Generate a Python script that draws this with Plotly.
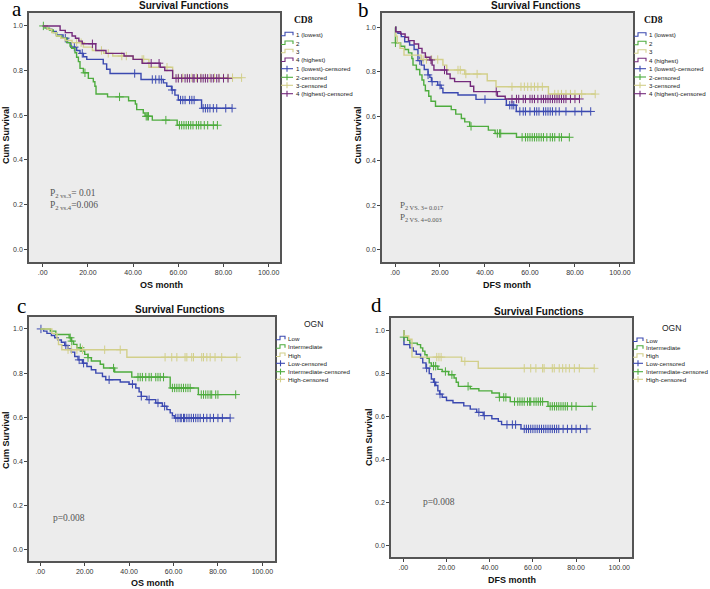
import numpy as np
import plotly.graph_objects as go

W, H = 710, 589

# ---------------- Panel a : CD8, OS ----------------
A1_T = [0, 2, 4, 6, 9, 11, 12.5, 15, 16.5, 18, 19.5, 26.8, 28.3, 29.8, 43.5, 53.4, 54.9, 57, 58.5, 60, 70.3]
A1_S = [1.0, 0.985, 0.975, 0.96, 0.945, 0.925, 0.905, 0.89, 0.877, 0.862, 0.85, 0.83, 0.806, 0.787, 0.76, 0.745, 0.73, 0.713, 0.69, 0.668, 0.631]
A1_C = [10, 14, 17.5, 40.7, 48.5, 50, 51.5, 52.5, 57.3, 61, 62, 63, 65, 66, 67, 71, 72, 73, 74, 75.5, 77, 81, 83.8]

A2_T = [0, 1, 3, 4.7, 6.2, 8.4, 10.6, 12.1, 12.8, 14.3, 15, 15.8, 16.5, 18, 20.2, 22.4, 23.1, 23.6, 28.7, 38, 41, 41.6, 44.5, 45.3, 48.5, 59.5]
A2_S = [1.0, 0.99, 0.982, 0.97, 0.955, 0.945, 0.925, 0.91, 0.9, 0.88, 0.86, 0.84, 0.81, 0.79, 0.765, 0.75, 0.73, 0.695, 0.682, 0.665, 0.65, 0.625, 0.61, 0.595, 0.578, 0.555]
A2_C = [0.3, 18.7, 34, 45.8, 46.3, 46.8, 54.5, 60.5, 61.5, 62.5, 63.5, 64.5, 65.5, 66.5, 68, 69, 70, 71.5, 73, 75.5, 77.3]

A3_T = [0, 2, 4, 6, 8, 10, 13, 18, 22, 27, 31, 40, 47, 57.5]
A3_S = [1.0, 0.985, 0.97, 0.955, 0.945, 0.935, 0.925, 0.905, 0.89, 0.877, 0.865, 0.85, 0.815, 0.768]
A3_C = [15, 17, 26, 29, 35, 37, 44, 44.7, 55, 60, 62, 64, 66, 68, 70, 72, 74, 76, 78, 80, 82, 84, 88]

A4_T = [0, 7.7, 10, 13, 14.5, 16, 17.5, 23.5, 28, 36, 40, 44, 52, 54, 57.5]
A4_S = [1.0, 0.98, 0.97, 0.955, 0.945, 0.932, 0.92, 0.89, 0.877, 0.865, 0.85, 0.833, 0.815, 0.80, 0.765]
A4_C = [22, 48, 51.5, 59, 60, 61.5, 63, 64, 65, 66.5, 67, 68.5, 70, 71, 72, 73, 74.5, 75.5, 77, 78, 80, 82]

# ---------------- Panel b : CD8, DFS ----------------
B1_T = [0, 0.5, 1.3, 2.8, 4.3, 6.5, 8.5, 10.2, 11.7, 13, 14.7, 15.5, 16.2, 19, 20.5, 21.3, 28, 36, 49.5, 53.9]
B1_S = [1.0, 0.98, 0.973, 0.958, 0.935, 0.92, 0.9, 0.85, 0.83, 0.81, 0.786, 0.775, 0.756, 0.74, 0.726, 0.706, 0.696, 0.676, 0.65, 0.622]
B1_C = [11, 14.7, 16.5, 20, 40, 51, 52, 52.8, 55.5, 57, 58, 60, 62, 63, 64, 66, 67, 68, 69, 70, 71.5, 73, 76, 80, 83, 87]

B2_T = [0, 0.2, 2.5, 4.3, 6, 7.5, 8, 9.5, 11, 12, 12.8, 13.5, 15, 16, 18, 25, 27, 29.5, 31, 33.2, 41.5, 44.5, 54]
B2_S = [1.0, 0.93, 0.915, 0.9, 0.885, 0.86, 0.83, 0.81, 0.786, 0.763, 0.74, 0.715, 0.69, 0.668, 0.645, 0.63, 0.61, 0.59, 0.575, 0.555, 0.538, 0.523, 0.506]
B2_C = [0.2, 33.8, 45.5, 46.5, 47, 56.5, 58, 59, 60, 61, 62, 63, 64, 65, 66, 67.5, 69, 70, 71, 73, 74, 77.5]

B3_T = [0, 0.3, 1, 2.2, 4, 11.7, 21.3, 23, 31, 41, 44.9, 68.2]
B3_S = [1.0, 0.96, 0.93, 0.905, 0.875, 0.855, 0.83, 0.808, 0.79, 0.76, 0.733, 0.70]
B3_C = [12.5, 14, 16.3, 19, 28, 29, 31.5, 36.5, 52, 56, 57.5, 59, 60.5, 62, 63.5, 65.5, 71, 72.5, 74, 76, 78, 80, 83, 89]

B4_T = [0, 0.3, 2.5, 4.5, 6, 8.5, 10.5, 12, 13.5, 15.5, 16.5, 17.3, 23, 24.5, 26.5, 33.5, 35, 45.5, 49]
B4_S = [1.0, 0.98, 0.97, 0.955, 0.94, 0.925, 0.905, 0.885, 0.865, 0.853, 0.83, 0.808, 0.79, 0.77, 0.756, 0.735, 0.711, 0.69, 0.678]
B4_C = [16, 22, 45, 52, 54, 55, 57, 58, 60, 61, 62, 63.5, 65, 66, 67, 68, 69, 70, 71, 72, 73, 74, 75, 76, 78, 80, 82]

# ---------------- Panel c : OGN, OS ----------------
C1_T = [0, 1.5, 3, 5, 6.5, 8, 9.5, 11, 12.5, 14, 15.5, 17, 19, 21, 23, 25, 28, 29.5, 36, 40, 43, 44.5, 45.5, 48, 52, 55, 57, 58.5, 59.5, 60.5]
C1_S = [1.0, 0.99, 0.98, 0.97, 0.96, 0.95, 0.94, 0.925, 0.91, 0.895, 0.875, 0.86, 0.845, 0.83, 0.815, 0.80, 0.785, 0.77, 0.76, 0.75, 0.733, 0.715, 0.695, 0.68, 0.665, 0.65, 0.635, 0.62, 0.607, 0.597]
C1_C = [0.3, 11.5, 17.5, 19.5, 31, 41.5, 45.5, 49, 53, 56, 61, 62, 63, 63.5, 64.5, 65, 66, 67, 68, 69, 70, 71, 72, 73.5, 75, 76.5, 78, 80, 82, 85.5]

C2_T = [0, 4.5, 7, 13, 14, 15, 16.5, 18.5, 20, 21.5, 23, 27, 28.5, 33.5, 41.2, 58.5, 71.2]
C2_S = [1.0, 0.99, 0.975, 0.96, 0.945, 0.93, 0.915, 0.9, 0.885, 0.87, 0.855, 0.84, 0.823, 0.805, 0.782, 0.733, 0.703]
C2_C = [13.5, 14.2, 18, 21.5, 33, 44, 45, 46, 47.5, 49, 50, 52, 53, 54, 55.5, 59.5, 60.5, 61.5, 62.5, 63.5, 64.5, 65.5, 66.5, 67.5, 72.5, 73.5, 74.5, 75.5, 76.5, 77.2, 79, 80, 88]

C3_T = [0, 5.2, 7.5, 8.2, 9.7, 39]
C3_S = [1.0, 0.98, 0.955, 0.929, 0.906, 0.872]
C3_C = [12.5, 14, 16.5, 19, 29, 36, 56.2, 59.2, 61.5, 65.2, 66, 68.2, 69, 72.7, 73.5, 75, 76.5, 78.7, 81.7, 88.5]

# ---------------- Panel d : OGN, DFS ----------------
D1_T = [0, 0.3, 3, 4.6, 6, 8, 9, 10.5, 12, 13, 14, 15, 16, 16.8, 18, 20, 23, 28, 31, 34, 37, 41, 44, 45.5, 54.5]
D1_S = [1.0, 0.935, 0.92, 0.905, 0.89, 0.873, 0.85, 0.826, 0.8, 0.775, 0.76, 0.745, 0.72, 0.705, 0.69, 0.675, 0.665, 0.65, 0.635, 0.62, 0.605, 0.59, 0.578, 0.563, 0.543]
D1_C = [10.8, 14.5, 17, 35, 37.5, 48, 50.5, 52, 56, 57, 58, 59, 60, 61, 62, 63, 64, 65, 66, 67, 68, 69, 70, 71, 72, 74, 76, 78, 80, 82, 85]

D2_T = [0, 0.3, 2, 3, 6.5, 8, 9, 10, 11, 12, 13, 16, 18, 21, 23.5, 24.5, 25.5, 31, 35, 41, 44.5, 49.5, 67]
D2_S = [1.0, 0.97, 0.955, 0.942, 0.935, 0.92, 0.905, 0.888, 0.872, 0.85, 0.835, 0.82, 0.81, 0.795, 0.78, 0.76, 0.741, 0.73, 0.72, 0.71, 0.69, 0.67, 0.648]
D2_C = [0.3, 14, 15, 19.5, 22.5, 30, 44.5, 46.5, 47.5, 51.5, 53, 54, 55, 56, 57.5, 58.5, 59, 60.5, 61.5, 62.5, 63.5, 64.5, 68, 69, 70, 71, 72, 73, 74, 75, 76, 78, 80, 87.5]

D3_T = [0, 0.3, 2.5, 4.0, 27, 34.7]
D3_S = [1.0, 0.975, 0.96, 0.877, 0.857, 0.825]
D3_C = [15.5, 16.5, 17.5, 28.5, 56, 59, 61.4, 64.5, 65.2, 69, 69.9, 72.2, 73.8, 75.3, 76.9, 79.2, 81.5, 88.4]

# ---------------- labels ----------------
CD8_LABELS = ["1 (lowest)", "2", "3", "4 (highest)"]
OGN_LABELS = ["Low", "Intermediate", "High"]
X_TICKS = [0, 20, 40, 60, 80, 100]
X_TICKTEXT = [".00", "20.00", "40.00", "60.00", "80.00", "100.00"]
Y_TICKS = [0, 0.2, 0.4, 0.6, 0.8, 1.0]
Y_TICKTEXT = ["0.0", "0.2", "0.4", "0.6", "0.8", "1.0"]

BLUE = "#3b49b0"
GREEN = "#4eac3e"
KHAKI = "#d2cf8a"
PURPLE = "#742a7c"
CD8_COLORS = [BLUE, GREEN, KHAKI, PURPLE]
OGN_COLORS = [BLUE, GREEN, KHAKI]

panels = [
    dict(sfx="", series=[(A1_T, A1_S, A1_C), (A2_T, A2_S, A2_C), (A3_T, A3_S, A3_C), (A4_T, A4_S, A4_C)],
         colors=CD8_COLORS, labels=CD8_LABELS, box=(29, 280, 13, 262), xr=[-6.06, 105.0], yr=[-0.058, 1.058],
         xtitle="OS month", xt_pos=(161, 285), yt_pos=(6, 135), title_pos=(184, 6), letter="a", letter_pos=(17, 9),
         leg_title="CD8", leg_title_pos=(303, 20), leg_key=(281, 293), leg_text_x=294,
         leg_y=[34.3, 43, 51.3, 60, 68.7, 77.3, 85.3, 93.7]),
    dict(sfx="2", series=[(B1_T, B1_S, B1_C), (B2_T, B2_S, B2_C), (B3_T, B3_S, B3_C), (B4_T, B4_S, B4_C)],
         colors=CD8_COLORS, labels=CD8_LABELS, box=(382, 633, 13, 262), xr=[-5.78, 105.8], yr=[-0.054, 1.064],
         xtitle="DFS month", xt_pos=(507, 285), yt_pos=(358, 135), title_pos=(536, 6), letter="b", letter_pos=(363, 10),
         leg_title="CD8", leg_title_pos=(653, 20), leg_key=(634, 646), leg_text_x=647,
         leg_y=[34.7, 43.3, 51.7, 60.3, 68.7, 77, 85.3, 93.7]),
    dict(sfx="3", series=[(C1_T, C1_S, C1_C), (C2_T, C2_S, C2_C), (C3_T, C3_S, C3_C)],
         colors=OGN_COLORS, labels=OGN_LABELS, box=(29, 275, 317, 561), xr=[-5.08, 105.7], yr=[-0.05, 1.054],
         xtitle="OS month", xt_pos=(152, 583), yt_pos=(6, 440), title_pos=(180, 309), letter="c", letter_pos=(21, 306),
         leg_title="OGN", leg_title_pos=(313, 324), leg_key=(276, 285), leg_text_x=286,
         leg_y=[338.3, 346.7, 355, 363.3, 371.7, 379.3]),
    dict(sfx="4", series=[(D1_T, D1_S, D1_C), (D2_T, D2_S, D2_C), (D3_T, D3_S, D3_C)],
         colors=OGN_COLORS, labels=OGN_LABELS, box=(391, 632, 318, 557), xr=[-5.7, 105.9], yr=[-0.053, 1.059],
         xtitle="DFS month", xt_pos=(512, 580), yt_pos=(369, 437), title_pos=(539, 311), letter="d", letter_pos=(377, 305),
         leg_title="OGN", leg_title_pos=(671, 328), leg_key=(633, 643), leg_text_x=644,
         leg_y=[340, 347.7, 355.7, 363.3, 371.7, 379.3]),
]

P_NOTES = [
    ("P<sub>2 vs.3</sub>= 0.01", 47.5, 193, 9.5),
    ("P<sub>2 vs.4</sub>=0.006", 47.5, 205, 9.5),
    ("P<sub>2 VS. 3= 0.017</sub>", 397.5, 205, 9),
    ("P<sub>2 VS. 4=0.003</sub>", 397.5, 217, 9),
    ("p=0.008", 51, 518, 9.5),
    ("p=0.008", 421, 502, 9.5),
]


def fx(p):
    return p / W


def fy(p):
    return 1 - p / H


fig = go.Figure()
shapes = []
annotations = []
SANS = "Liberation Sans, Arial, sans-serif"
SERIF = "Liberation Serif, Times New Roman, serif"

for pn in panels:
    sfx = pn["sfx"]
    xa, ya = "x" + sfx, "y" + sfx
    for (T, S, C), col in zip(pn["series"], pn["colors"]):
        t_end = max(T[-1], max(C))
        fig.add_trace(go.Scatter(x=list(T) + [t_end], y=list(S) + [S[-1]], mode="lines",
                                 line=dict(color=col, width=1.4, shape="hv"),
                                 xaxis=xa, yaxis=ya, showlegend=False, hoverinfo="skip"))
        idx = np.searchsorted(np.array(T), np.array(C), side="right") - 1
        cy = np.array(S)[idx]
        fig.add_trace(go.Scatter(x=C, y=cy, mode="markers",
                                 marker=dict(symbol="cross-thin", size=6, line=dict(color=col, width=1)),
                                 xaxis=xa, yaxis=ya, showlegend=False, hoverinfo="skip"))
    x0, x1, y0, y1 = pn["box"]
    key = sfx
    fig.layout["xaxis" + key] = dict(domain=[fx(x0), fx(x1)], range=pn["xr"], anchor=ya,
                                     tickvals=X_TICKS, ticktext=X_TICKTEXT, ticks="outside", ticklen=3,
                                     tickcolor="#444", tickwidth=1, showline=True, mirror=True,
                                     linecolor="#555", linewidth=1.5, showgrid=False, zeroline=False,
                                     tickfont=dict(size=7, color="#333", family=SANS))
    fig.layout["yaxis" + key] = dict(domain=[fy(y1), fy(y0)], range=pn["yr"], anchor=xa,
                                     tickvals=Y_TICKS, ticktext=Y_TICKTEXT, ticks="outside", ticklen=3,
                                     tickcolor="#444", tickwidth=1, showline=True, mirror=True,
                                     linecolor="#555", linewidth=1.5, showgrid=False, zeroline=False,
                                     tickfont=dict(size=7, color="#333", family=SANS))
    annotations.append(dict(text="<b>Survival Functions</b>", x=fx(pn["title_pos"][0]), y=fy(pn["title_pos"][1]),
                            xref="paper", yref="paper", showarrow=False, xanchor="center", yanchor="middle",
                            font=dict(size=10, color="#111", family=SANS)))
    annotations.append(dict(text="<b>" + pn["xtitle"] + "</b>", x=fx(pn["xt_pos"][0]), y=fy(pn["xt_pos"][1]),
                            xref="paper", yref="paper", showarrow=False, xanchor="center", yanchor="middle",
                            font=dict(size=9, color="#111", family=SANS)))
    annotations.append(dict(text="<b>Cum Survival</b>", x=fx(pn["yt_pos"][0]), y=fy(pn["yt_pos"][1]),
                            xref="paper", yref="paper", showarrow=False, xanchor="center", yanchor="middle",
                            textangle=-90, font=dict(size=9, color="#111", family=SANS)))
    annotations.append(dict(text=pn["letter"], x=fx(pn["letter_pos"][0]), y=fy(pn["letter_pos"][1]),
                            xref="paper", yref="paper", showarrow=False, xanchor="center", yanchor="middle",
                            font=dict(size=21, color="#000", family=SERIF)))
    if pn["leg_title"] == "CD8":
        lt_font = dict(size=9.5, color="#111", family=SERIF)
        lt_text = "<b>CD8</b>"
    else:
        lt_font = dict(size=8.5, color="#222", family=SANS)
        lt_text = "OGN"
    annotations.append(dict(text=lt_text, x=fx(pn["leg_title_pos"][0]), y=fy(pn["leg_title_pos"][1]),
                            xref="paper", yref="paper", showarrow=False, xanchor="center", yanchor="middle",
                            font=lt_font))
    kx0, kx1 = pn["leg_key"]
    entries = [(lab, col, False) for lab, col in zip(pn["labels"], pn["colors"])] + \
              [(lab + "-censored", col, True) for lab, col in zip(pn["labels"], pn["colors"])]
    for (lab, col, cens), ly in zip(entries, pn["leg_y"]):
        if not cens:
            km = kx0 + 4
            path = "M {:.5f},{:.5f} L {:.5f},{:.5f} L {:.5f},{:.5f} L {:.5f},{:.5f} L {:.5f},{:.5f}".format(
                fx(kx0), fy(ly + 1.5), fx(km), fy(ly + 1.5), fx(km), fy(ly - 2), fx(kx1), fy(ly - 2),
                fx(kx1), fy(ly + 1))
            shapes.append(dict(type="path", path=path, xref="paper", yref="paper",
                               line=dict(color=col, width=1.1)))
        else:
            shapes.append(dict(type="line", x0=fx(kx0), x1=fx(kx1), y0=fy(ly), y1=fy(ly),
                               xref="paper", yref="paper", line=dict(color=col, width=1.1)))
            xm = (kx0 + kx1) / 2
            shapes.append(dict(type="line", x0=fx(xm), x1=fx(xm), y0=fy(ly - 3), y1=fy(ly + 3),
                               xref="paper", yref="paper", line=dict(color=col, width=1.1)))
        annotations.append(dict(text=lab, x=fx(pn["leg_text_x"]), y=fy(ly), xref="paper", yref="paper",
                                showarrow=False, xanchor="left", yanchor="middle",
                                font=dict(size=6.2, color="#222", family=SANS)))

for txt, px_, py_, fs in P_NOTES:
    annotations.append(dict(text=txt, x=fx(px_), y=fy(py_), xref="paper", yref="paper", showarrow=False,
                            xanchor="left", yanchor="middle", font=dict(size=fs, color="#555", family=SERIF)))

fig.update_layout(width=W, height=H, margin=dict(l=0, r=0, t=0, b=0), paper_bgcolor="white",
                  plot_bgcolor="#ececec", showlegend=False, shapes=shapes, annotations=annotations)

fig.write_html("out.html", config={"displayModeBar": False},
               post_script="document.body.style.margin='0';document.body.style.overflow='hidden';"
                           "document.documentElement.style.overflow='hidden';")
